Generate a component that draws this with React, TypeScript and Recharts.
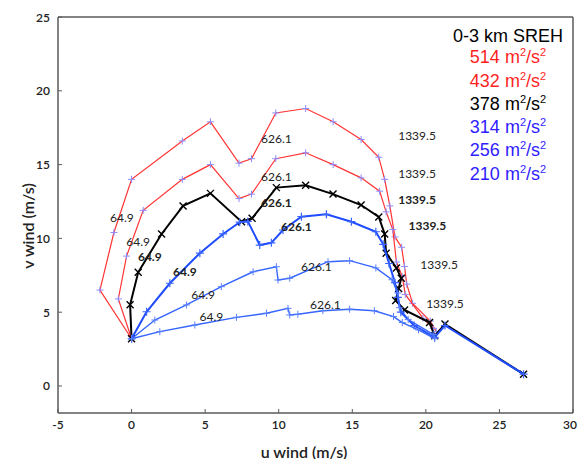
import React from 'react';
import { ScatterChart, Scatter, XAxis, YAxis } from 'recharts';

// 0-3 km SREH values (m2/s2), one per hodograph
const srehValues = [514, 432, 378, 314, 256, 210];

// hodograph points [u, v] in m/s
const hodo514: [number, number][] = [
  [0, 3.2], [-2.15, 6.5], [-1.2, 10.4], [0, 14.0], [3.45, 16.6], [5.36, 17.9], [7.3, 15.1], [8.15, 15.4],
  [9.8, 18.5], [11.83, 18.8], [13.7, 17.9], [15.6, 16.7], [16.8, 15.5], [17.2, 14.0], [17.55, 12.2],
  [17.9, 10.1], [18.35, 9.4], [18.55, 8.1], [18.7, 6.9], [19.1, 5.6], [20.3, 4.4], [20.7, 3.7],
];
const hodo432: [number, number][] = [
  [0, 3.2], [-0.9, 5.9], [-0.34, 8.8], [0.79, 11.9], [3.45, 14.0], [5.36, 15.0], [7.3, 12.7], [8.15, 13.0],
  [9.8, 15.4], [11.83, 15.8], [13.7, 15.0], [15.6, 14.1], [16.86, 13.2], [17.3, 11.8], [17.75, 10.6],
  [18.0, 8.4], [18.4, 7.4], [18.6, 6.2], [19.8, 4.6], [20.5, 3.9],
];
const hodo378: [number, number][] = [
  [0, 3.2], [-0.1, 5.5], [0.45, 7.7], [2.04, 10.3], [3.5, 12.2], [5.36, 13.05], [7.47, 11.13], [8.19, 11.36],
  [9.84, 13.44], [11.83, 13.6], [13.69, 13.0], [15.6, 12.26], [16.8, 11.45], [17.2, 10.3], [17.3, 9.0],
  [18.0, 8.0], [18.33, 7.3], [18.15, 6.6], [17.95, 5.8], [18.55, 5.15], [20.25, 4.3], [20.6, 3.4],
  [21.3, 4.2], [26.64, 0.8],
];
const hodo314: [number, number][] = [
  [0, 3.2], [1.02, 5.03], [2.6, 6.96], [4.64, 9.0], [6.22, 10.3], [7.35, 11.1], [7.9, 11.15], [8.71, 9.55],
  [9.5, 9.7], [10.29, 10.57], [11.54, 11.47], [13.24, 11.63], [14.94, 11.13], [16.6, 10.45], [17.1, 9.6],
  [17.5, 8.3], [17.9, 7.0], [18.1, 6.0], [18.3, 5.0], [19.2, 4.1], [20.6, 3.3], [21.3, 4.1], [26.64, 0.8],
];
const hodo256: [number, number][] = [
  [0, 3.2], [1.58, 4.47], [3.73, 5.49], [6.1, 6.73], [8.26, 7.74], [9.84, 8.08], [9.95, 7.18], [10.75, 7.3],
  [13.35, 8.42], [14.82, 8.49], [16.6, 8.0], [17.7, 7.2], [18.1, 6.3], [18.2, 5.3], [18.8, 4.5], [20.5, 3.5],
];
const hodo210: [number, number][] = [
  [0, 3.2], [1.92, 3.68], [4.3, 4.13], [7.13, 4.65], [9.17, 4.93], [10.63, 5.26], [10.75, 4.81], [11.3, 4.86],
  [13.0, 5.1], [14.82, 5.2], [16.5, 5.1], [17.8, 4.7], [18.4, 4.3], [19.5, 3.8], [20.6, 3.2],
];

// height labels (m) with their [u, v] anchor, one per hodograph (same order as srehValues)
const heightLabel1 = '64.9';
const heightLabel2 = '626.1';
const heightLabel3 = '1339.5';
const label1Pos: [number, number][] = [[-0.66, 11.4], [0.45, 9.78], [1.24, 8.76], [3.62, 7.74], [4.86, 6.23], [5.43, 4.7]];
const label2Pos: [number, number][] = [[9.84, 16.8], [9.84, 14.2], [9.84, 12.45], [11.2, 10.8], [12.56, 8.08], [13.17, 5.5]];
const label3Pos: [number, number][] = [[19.4, 17.0], [19.4, 14.4], [19.4, 12.65], [20.1, 10.84], [20.9, 8.2], [21.3, 5.6]];

const xTicks = [-5, 0, 5, 10, 15, 20, 25, 30];
const yTicks = [0, 5, 10, 15, 20, 25];

const allHodos = [hodo514, hodo432, hodo378, hodo314, hodo256, hodo210];

const styles = [
  { line: '#ff3333', width: 1.2, marker: '#8c8cff', kind: 'plus', size: 3.5, mw: 1, text: '#ff1f1f', bold: false },
  { line: '#ff3333', width: 1.2, marker: '#8c8cff', kind: 'plus', size: 3.5, mw: 1, text: '#ff1f1f', bold: false },
  { line: '#000000', width: 2, marker: '#000000', kind: 'x', size: 3.5, mw: 1.4, text: '#000000', bold: true },
  { line: '#1f4cff', width: 2, marker: '#3a64ff', kind: 'plus', size: 4, mw: 1.2, text: '#2f1cff', bold: true },
  { line: '#3565ff', width: 1.4, marker: '#5a80ff', kind: 'plus', size: 3.5, mw: 1, text: '#2f1cff', bold: false },
  { line: '#3565ff', width: 1.4, marker: '#5a80ff', kind: 'plus', size: 3.5, mw: 1, text: '#2f1cff', bold: false },
];

const makeMarker = (kind: string, color: string, s: number, w: number) => (p: any) => {
  const { cx, cy } = p;
  if (cx == null || cy == null) return <g />;
  const d = kind === 'x'
    ? `M${cx - s},${cy - s}L${cx + s},${cy + s}M${cx - s},${cy + s}L${cx + s},${cy - s}`
    : `M${cx - s},${cy}L${cx + s},${cy}M${cx},${cy - s}L${cx},${cy + s}`;
  return <path d={d} stroke={color} strokeWidth={w} fill="none" />;
};

const makeText = (bold: boolean) => (p: any) => {
  const { cx, cy, payload } = p;
  if (cx == null || cy == null) return <g />;
  return (
    <text x={cx} y={cy} textAnchor="middle" dominantBaseline="central" fontFamily="Lato, 'Open Sans', sans-serif"
      fontSize={12} fontWeight={bold ? 700 : 400} fill="#222">
      {payload.text}
    </text>
  );
};

const axisColor = '#5a5a5a';
const fontFam = "Lato, 'Open Sans', sans-serif";

const XTick = (p: any) => {
  const { x, y, payload, index, visibleTicksCount } = p;
  const last = index === (visibleTicksCount ?? xTicks.length) - 1 || payload.value === xTicks[xTicks.length - 1];
  return (
    <text x={last ? x + 4 : x} y={y} textAnchor={last ? 'end' : 'middle'} dominantBaseline="hanging"
      fontFamily={fontFam} fontSize={12} fontWeight={600} fill="#222">
      {payload.value}
    </text>
  );
};

const YTick = (p: any) => {
  const { x, y, payload } = p;
  return (
    <text x={x} y={y} textAnchor="end" dominantBaseline="central"
      fontFamily={fontFam} fontSize={12} fontWeight={600} fill="#222">
      {payload.value}
    </text>
  );
};

export default function App() {
  const seriesData = allHodos.map((h) => h.map(([u, v]) => ({ u, v })));
  const labelData = srehValues.map((_, i) => [
    { u: label1Pos[i][0], v: label1Pos[i][1], text: heightLabel1 },
    { u: label2Pos[i][0], v: label2Pos[i][1], text: heightLabel2 },
    { u: label3Pos[i][0], v: label3Pos[i][1], text: heightLabel3 },
  ]);

  return (
    <div style={{ position: 'absolute', left: 0, top: 0, width: 578, height: 459, background: '#fff' }}>
      <ScatterChart width={578} height={459} margin={{ top: 16, right: 4, bottom: 0, left: 0 }}>
        <XAxis
          type="number" dataKey="u" xAxisId={0} domain={[-5, 30]} ticks={xTicks} allowDataOverflow
          height={46} tickSize={-4} tickMargin={10} axisLine={{ stroke: axisColor, strokeWidth: 1.5 }}
          tickLine={{ stroke: axisColor }} tick={<XTick />} interval={0}
          label={{
            content: () => (
              <text x={304} y={451} textAnchor="middle" dominantBaseline="central"
                fontFamily={fontFam} fontSize={16} fill="#222" fontWeight={600}>u wind (m/s)</text>
            ),
          }}
        />
        <XAxis
          type="number" dataKey="u" xAxisId="top" orientation="top" domain={[-5, 30]} ticks={xTicks} height={1}
          tickSize={-4} axisLine={{ stroke: axisColor, strokeWidth: 1.5 }} tickLine={{ stroke: axisColor }}
          tickFormatter={() => ''} interval={0}
        />
        <YAxis
          type="number" dataKey="v" yAxisId={0} domain={[-1.83, 25]} ticks={yTicks} allowDataOverflow
          width={58} tickSize={-4} tickMargin={12} axisLine={{ stroke: axisColor, strokeWidth: 1.5 }}
          tickLine={{ stroke: axisColor }} tick={<YTick />} interval={0}
          label={{
            content: () => (
              <text x={27} y={226} textAnchor="middle" dominantBaseline="central" transform="rotate(-90 27 226)"
                fontFamily={fontFam} fontSize={16} fill="#222" fontWeight={600}>v wind (m/s)</text>
            ),
          }}
        />
        <YAxis
          type="number" dataKey="v" yAxisId="right" orientation="right" domain={[-1.83, 25]} ticks={yTicks} width={1}
          tickSize={-4} axisLine={{ stroke: axisColor, strokeWidth: 1.5 }} tickLine={{ stroke: axisColor }}
          tickFormatter={() => ''} interval={0}
        />
        {seriesData.map((d, i) => {
          const st = styles[i];
          return (
            <Scatter
              key={'s' + i}
              name={`${srehValues[i]}`}
              data={d}
              xAxisId={0}
              yAxisId={0}
              line={{ stroke: st.line, strokeWidth: st.width }}
              lineType="joint"
              shape={makeMarker(st.kind, st.marker, st.size, st.mw)}
              isAnimationActive={false}
            />
          );
        })}
        {labelData.map((d, i) => (
          <Scatter
            key={'l' + i}
            data={d}
            xAxisId={0}
            yAxisId={0}
            shape={makeText(styles[i].bold)}
            isAnimationActive={false}
          />
        ))}
      </ScatterChart>
      <div
        style={{
          position: 'absolute', left: 440, top: 26, width: 136, textAlign: 'center',
          fontFamily: "'Liberation Sans', Arial, sans-serif", fontSize: 18, lineHeight: '21.3px', whiteSpace: 'nowrap',
        }}
      >
        <div style={{ color: '#000' }}>0-3 km SREH</div>
        {srehValues.map((v, i) => (
          <div key={v} style={{ color: styles[i].text }}>
            {v} m<sup style={{ fontSize: 11, verticalAlign: 'baseline', position: 'relative', top: -7 }}>2</sup>/s
            <sup style={{ fontSize: 11, verticalAlign: 'baseline', position: 'relative', top: -7 }}>2</sup>
          </div>
        ))}
      </div>
    </div>
  );
}
